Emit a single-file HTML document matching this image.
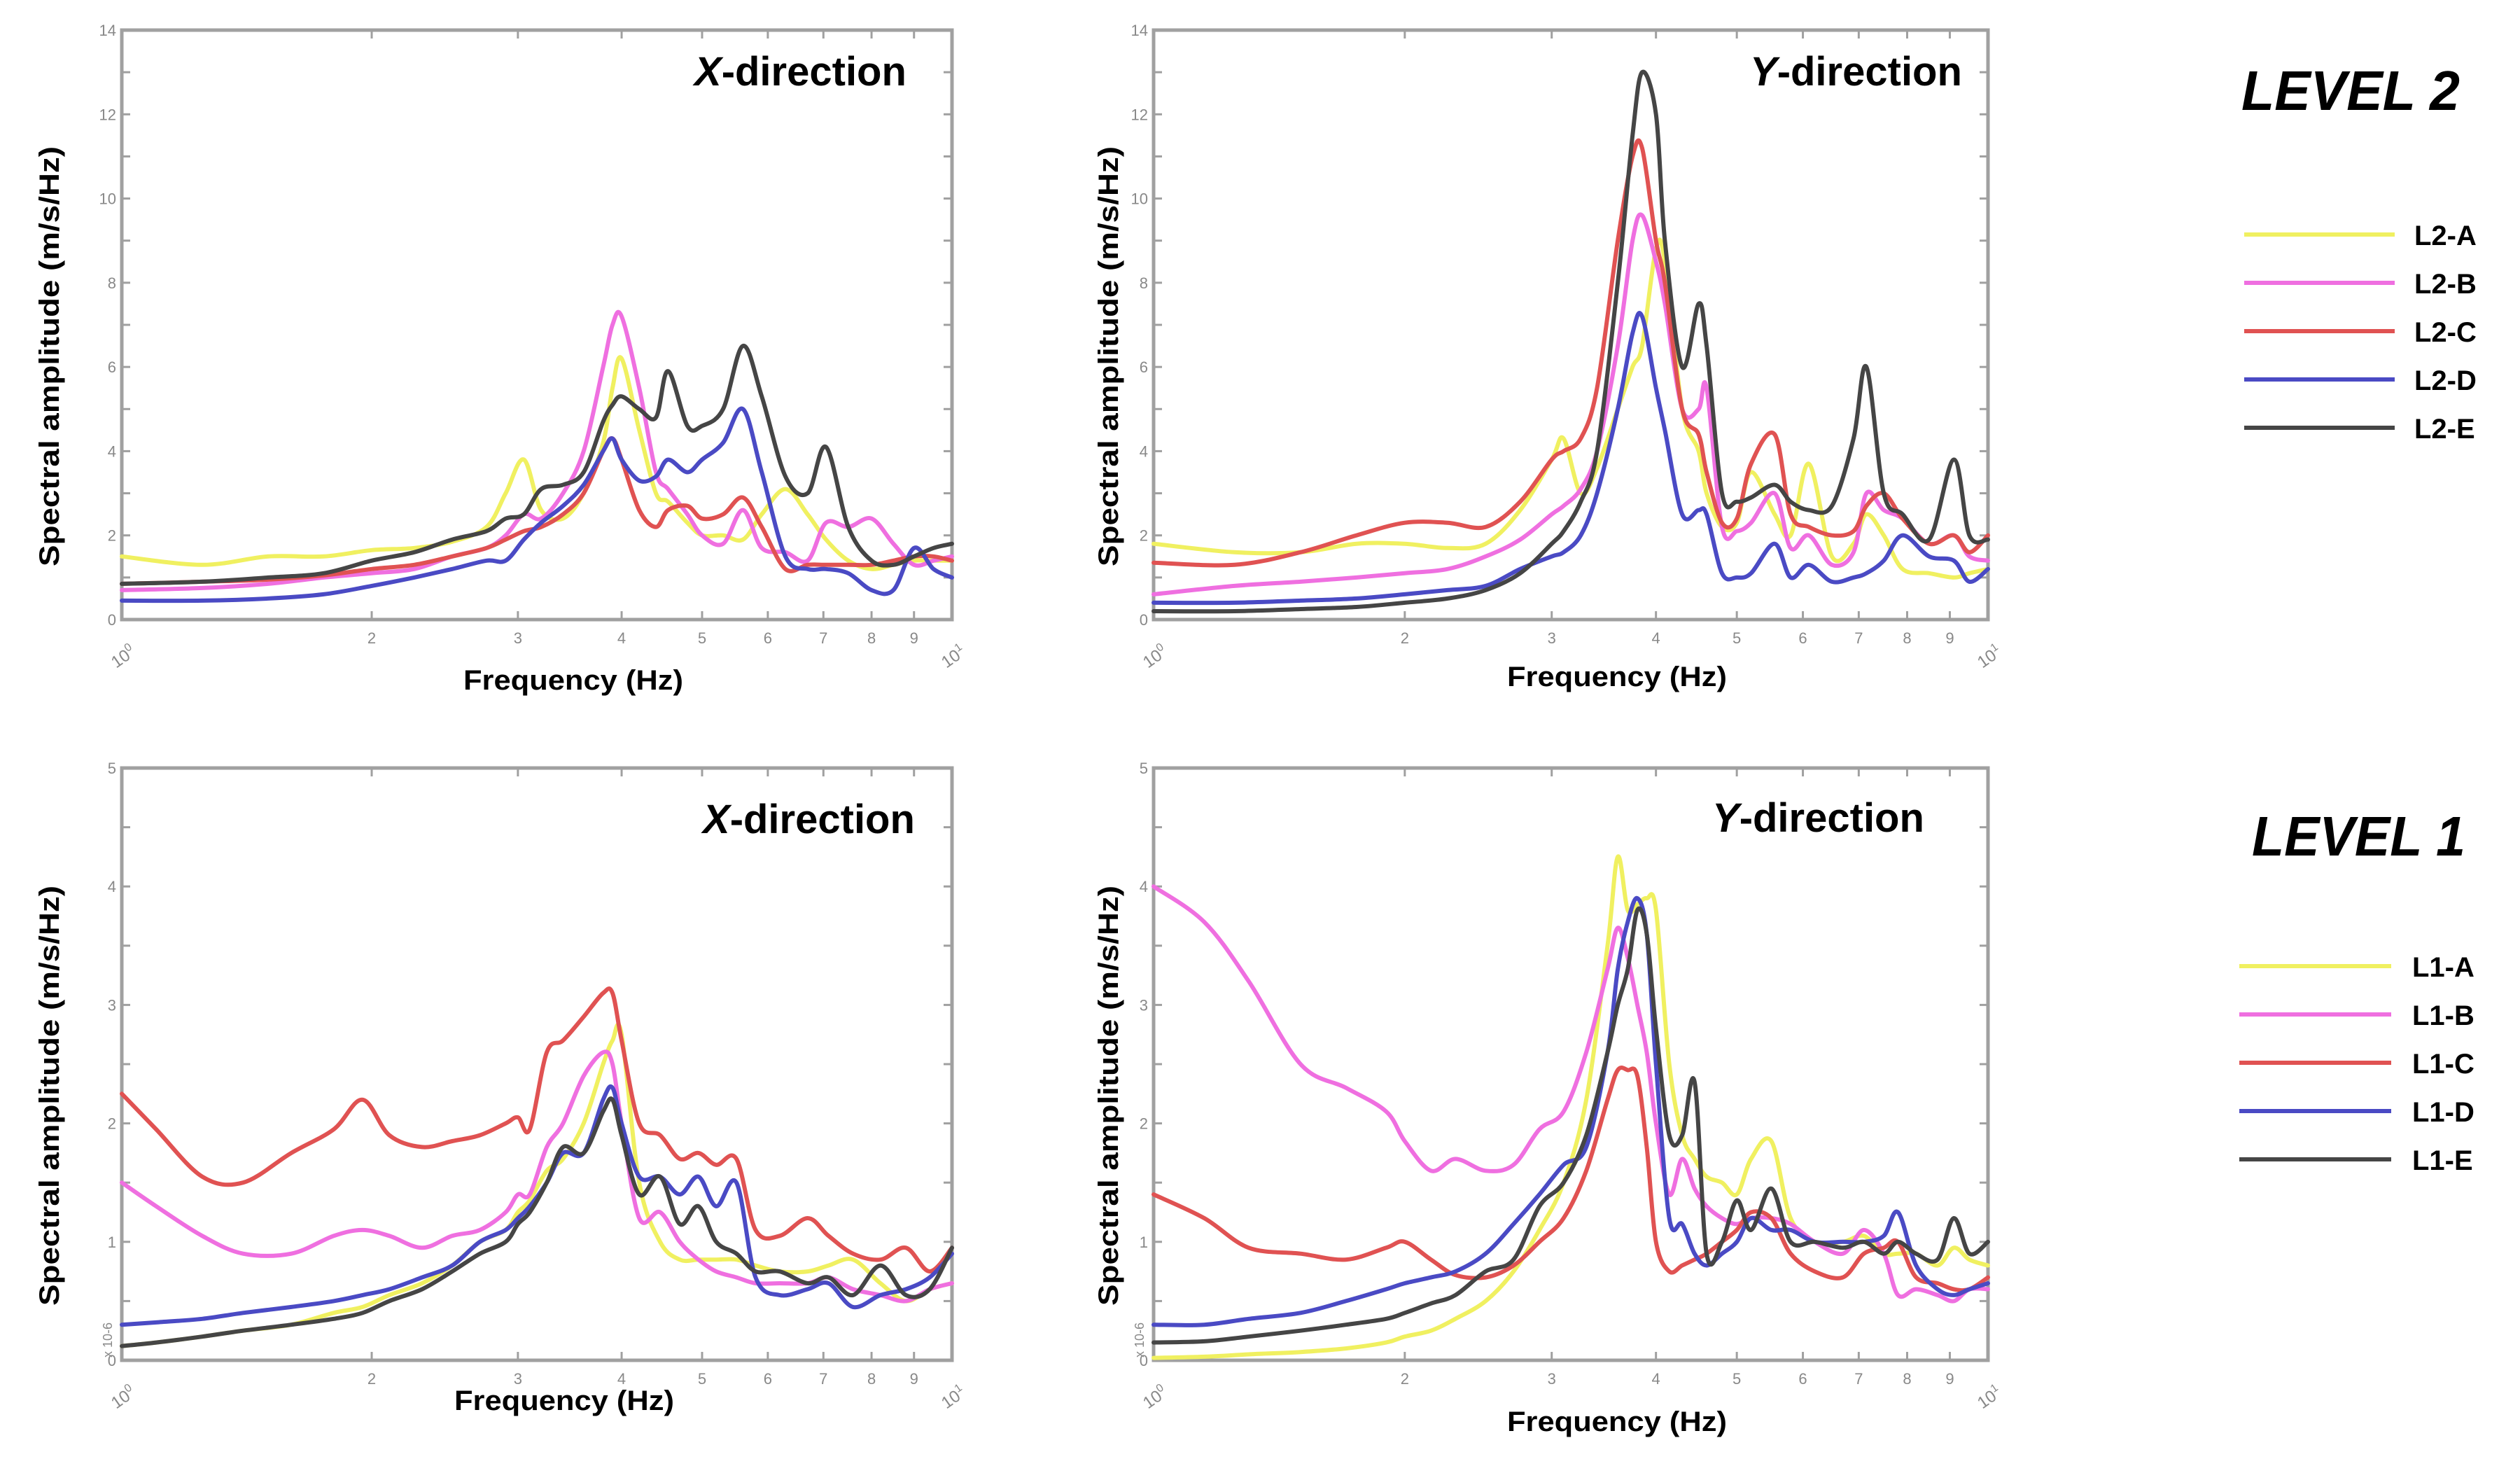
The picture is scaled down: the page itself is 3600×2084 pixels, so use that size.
<!DOCTYPE html>
<html><head><meta charset="utf-8">
<style>
html,body{margin:0;padding:0;background:#fff;}
svg{display:block;}
text{font-family:"Liberation Sans",sans-serif;}
</style></head>
<body>
<svg id="fig" width="3600" height="2084" viewBox="0 0 3600 2084" xmlns="http://www.w3.org/2000/svg">
  <rect x="0" y="0" width="3600" height="2084" fill="#fff"/>
  <g id="panels"></g>
  <text x="3202" y="157" font-size="80" font-weight="bold" font-style="italic" textLength="312" lengthAdjust="spacingAndGlyphs">LEVEL 2</text>
  <text x="3217" y="1222" font-size="80" font-weight="bold" font-style="italic" textLength="305" lengthAdjust="spacingAndGlyphs">LEVEL 1</text>
  <g id="legends"></g>
</svg>
<script>
// ---------- DATA ----------
const seriesNamesL2 = ["L2-A","L2-B","L2-C","L2-D","L2-E"];
const seriesNamesL1 = ["L1-A","L1-B","L1-C","L1-D","L1-E"];
const seriesColors = ["#f0f060","#ef6fe0","#e05252","#4a4ac4","#454545"];
const yTicksL2 = [0,2,4,6,8,10,12,14];
const yTicksL1 = [0,1,2,3,4,5];
const xTickValues = [2,3,4,5,6,7,8,9];
const xTickLabels = ["2","3","4","5","6","7","8","9"];

// Level 2, X-direction
const freqL2X = [1,1.25,1.5,1.75,2,2.25,2.5,2.75,2.9,3.05,3.2,3.4,3.6,3.8,3.9,4,4.2,4.4,4.55,4.8,5,5.3,5.6,5.9,6.3,6.7,7.05,7.5,8,8.5,9,9.5,10];
const l2xA = [1.5,1.3,1.5,1.5,1.65,1.7,1.85,2.2,3.0,3.8,2.6,2.4,3.0,4.2,5.5,6.2,4.5,3.0,2.8,2.3,2.0,2.0,1.9,2.5,3.1,2.5,1.9,1.4,1.2,1.3,1.4,1.4,1.4];
const l2xB = [0.7,0.75,0.85,1.0,1.1,1.2,1.5,1.7,2.0,2.5,2.4,3.0,4.0,6.0,7.0,7.2,5.5,3.5,3.1,2.5,2.0,1.8,2.6,1.7,1.6,1.4,2.3,2.2,2.4,1.8,1.3,1.4,1.5];
const l2xC = [0.85,0.9,0.95,1.05,1.2,1.3,1.5,1.7,1.9,2.1,2.2,2.5,3.0,4.0,4.3,3.8,2.6,2.2,2.6,2.7,2.4,2.5,2.9,2.2,1.2,1.3,1.3,1.3,1.3,1.4,1.5,1.5,1.4];
const l2xD = [0.45,0.45,0.5,0.6,0.8,1.0,1.2,1.4,1.4,1.9,2.3,2.7,3.2,4.0,4.3,3.8,3.3,3.4,3.8,3.5,3.8,4.2,5.0,3.5,1.5,1.2,1.2,1.1,0.7,0.7,1.7,1.2,1.0];
const l2xE = [0.85,0.9,1.0,1.1,1.4,1.6,1.9,2.1,2.4,2.5,3.1,3.2,3.5,4.7,5.1,5.3,5.0,4.8,5.9,4.6,4.6,5.0,6.5,5.3,3.4,3.0,4.1,2.2,1.4,1.3,1.5,1.7,1.8];

// Level 2, Y-direction
const freqL2Y = [1,1.25,1.5,1.75,2,2.25,2.5,2.75,3,3.1,3.25,3.4,3.6,3.75,3.85,4,4.1,4.3,4.5,4.6,4.8,5,5.2,5.55,5.8,6.1,6.5,6.9,7.15,7.5,7.9,8.5,9.1,9.5,10];
const l2yA = [1.8,1.6,1.6,1.8,1.8,1.7,1.8,2.6,3.8,4.3,3.0,3.6,5.0,6.0,6.5,8.8,8.5,5.0,4.0,3.0,2.2,2.3,3.5,2.5,2.0,3.7,1.5,1.8,2.5,2.0,1.2,1.1,1.0,1.1,1.2];
const l2yB = [0.6,0.8,0.9,1.0,1.1,1.2,1.5,1.9,2.5,2.7,3.1,4.0,6.5,9.0,9.6,8.5,7.5,5.0,5.0,5.5,2.2,2.1,2.3,3.0,1.7,2.0,1.3,1.6,3.0,2.6,2.4,1.8,2.0,1.5,1.4];
const l2yC = [1.35,1.3,1.6,2.0,2.3,2.3,2.2,2.8,3.8,4.0,4.3,5.5,9.0,11.0,11.2,9.0,8.0,5.0,4.4,3.5,2.3,2.4,3.7,4.4,2.5,2.2,2.0,2.1,2.7,3.0,2.4,1.8,2.0,1.6,2.0];
const l2yD = [0.4,0.4,0.45,0.5,0.6,0.7,0.8,1.2,1.5,1.6,2.0,3.0,5.0,6.8,7.2,5.5,4.5,2.5,2.6,2.5,1.1,1.0,1.1,1.8,1.0,1.3,0.9,1.0,1.1,1.4,2.0,1.5,1.4,0.9,1.2];
const l2yE = [0.2,0.2,0.25,0.3,0.4,0.5,0.7,1.1,1.8,2.1,2.8,4.0,8.0,11.5,13.0,12.0,9.0,6.0,7.5,6.5,3.0,2.8,2.9,3.2,2.8,2.6,2.7,4.3,6.0,3.0,2.5,1.9,3.8,2.0,1.9];

// Level 1, X-direction (x 10^-6)
const freqL1X = [1,1.1,1.25,1.4,1.6,1.8,1.95,2.1,2.3,2.5,2.7,2.9,3.0,3.1,3.25,3.4,3.6,3.8,3.9,4.0,4.2,4.45,4.7,4.95,5.2,5.5,5.8,6.2,6.7,7.1,7.6,8.2,8.8,9.4,10];
const l1xA = [0.12,0.15,0.2,0.25,0.3,0.4,0.45,0.55,0.65,0.8,1.0,1.1,1.25,1.35,1.6,1.7,2.0,2.5,2.7,2.75,1.5,1.0,0.85,0.85,0.85,0.85,0.8,0.75,0.75,0.8,0.85,0.65,0.5,0.6,0.65];
const l1xB = [1.5,1.3,1.05,0.9,0.9,1.05,1.1,1.05,0.95,1.05,1.1,1.25,1.4,1.4,1.8,2.0,2.4,2.6,2.5,2.0,1.2,1.25,1.0,0.85,0.75,0.7,0.65,0.65,0.65,0.7,0.6,0.55,0.5,0.6,0.65];
const l1xC = [2.25,1.95,1.55,1.5,1.75,1.95,2.2,1.9,1.8,1.85,1.9,2.0,2.05,1.95,2.6,2.7,2.9,3.1,3.1,2.7,2.0,1.9,1.7,1.75,1.65,1.7,1.1,1.05,1.2,1.05,0.9,0.85,0.95,0.75,0.95];
const l1xD = [0.3,0.32,0.35,0.4,0.45,0.5,0.55,0.6,0.7,0.8,1.0,1.1,1.2,1.3,1.5,1.75,1.75,2.2,2.3,2.0,1.55,1.55,1.4,1.55,1.3,1.5,0.7,0.55,0.6,0.65,0.45,0.55,0.6,0.7,0.9];
const l1xE = [0.12,0.15,0.2,0.25,0.3,0.35,0.4,0.5,0.6,0.75,0.9,1.0,1.15,1.25,1.5,1.8,1.75,2.1,2.2,1.9,1.4,1.55,1.15,1.3,1.0,0.9,0.75,0.75,0.65,0.7,0.55,0.8,0.55,0.6,0.95];

// Level 1, Y-direction (x 10^-6)
const freqL1Y = [1,1.15,1.3,1.5,1.7,1.9,2.0,2.15,2.3,2.5,2.7,2.9,3.1,3.3,3.5,3.6,3.7,3.8,3.9,4.0,4.15,4.3,4.45,4.6,4.8,5.0,5.2,5.5,5.8,6.2,6.7,7.1,7.5,7.8,8.2,8.7,9.1,9.5,10];
const l1yA = [0.02,0.03,0.05,0.07,0.1,0.15,0.2,0.25,0.35,0.5,0.75,1.1,1.5,2.2,3.5,4.25,3.8,3.85,3.9,3.8,2.5,1.9,1.7,1.55,1.5,1.4,1.7,1.85,1.2,1.0,1.0,1.05,0.9,0.9,0.9,0.8,0.95,0.85,0.8];
const l1yB = [4.0,3.7,3.2,2.5,2.3,2.1,1.85,1.6,1.7,1.6,1.65,1.95,2.1,2.6,3.3,3.65,3.4,3.0,2.6,2.0,1.4,1.7,1.45,1.3,1.2,1.15,1.2,1.2,1.15,1.0,0.9,1.1,0.9,0.55,0.6,0.55,0.5,0.6,0.6];
const l1yC = [1.4,1.2,0.95,0.9,0.85,0.95,1.0,0.85,0.72,0.7,0.8,1.0,1.2,1.6,2.2,2.45,2.45,2.4,1.8,1.0,0.75,0.8,0.85,0.9,1.0,1.1,1.25,1.2,0.9,0.75,0.7,0.9,0.95,1.0,0.7,0.65,0.6,0.6,0.7];
const l1yD = [0.3,0.3,0.35,0.4,0.5,0.6,0.65,0.7,0.75,0.9,1.15,1.4,1.65,1.8,2.6,3.3,3.7,3.9,3.6,2.5,1.2,1.15,0.9,0.8,0.9,1.0,1.2,1.1,1.1,1.0,1.0,1.0,1.05,1.25,0.8,0.6,0.55,0.6,0.65];
const l1yE = [0.15,0.16,0.2,0.25,0.3,0.35,0.4,0.48,0.55,0.75,0.85,1.3,1.5,1.9,2.6,3.0,3.3,3.8,3.6,2.8,1.9,1.9,2.35,0.9,1.0,1.35,1.1,1.45,1.0,1.0,0.95,1.0,0.9,1.0,0.9,0.85,1.2,0.9,1.0];

// ---------- RENDER ----------
const NS = "http://www.w3.org/2000/svg";
function mk(tag, attrs, parent){
  const e = document.createElementNS(NS, tag);
  for (const k in attrs) e.setAttribute(k, attrs[k]);
  if (parent) parent.appendChild(e);
  return e;
}
function smoothPath(pts){
  let d = "M" + pts[0][0].toFixed(1) + "," + pts[0][1].toFixed(1);
  for (let i = 0; i < pts.length - 1; i++){
    const p0 = pts[Math.max(0,i-1)], p1 = pts[i], p2 = pts[i+1], p3 = pts[Math.min(pts.length-1,i+2)];
    const c1x = p1[0] + (p2[0]-p0[0])/6, c1y = p1[1] + (p2[1]-p0[1])/6;
    const c2x = p2[0] - (p3[0]-p1[0])/6, c2y = p2[1] - (p3[1]-p1[1])/6;
    d += " C" + c1x.toFixed(1) + "," + c1y.toFixed(1) + " " + c2x.toFixed(1) + "," + c2y.toFixed(1) + " " + p2[0].toFixed(1) + "," + p2[1].toFixed(1);
  }
  return d;
}

const panelsG = document.getElementById("panels");
const panelDefs = [
  {id:"level2-x", L:174, R:1360, T:43, B:885, ymax:14, yticks:yTicksL2, minor:1, freq:freqL2X, series:[l2xA,l2xB,l2xC,l2xD,l2xE], names:seriesNamesL2, title:"X", tx:992, ty:122, ytx:84, xtx:819, xty:985, exp:false},
  {id:"level2-y", L:1648, R:2840, T:43, B:885, ymax:14, yticks:yTicksL2, minor:1, freq:freqL2Y, series:[l2yA,l2yB,l2yC,l2yD,l2yE], names:seriesNamesL2, title:"Y", tx:2500, ty:122, ytx:1597, xtx:2310, xty:980, exp:false},
  {id:"level1-x", L:174, R:1360, T:1097, B:1943, ymax:5, yticks:yTicksL1, minor:0.5, freq:freqL1X, series:[l1xA,l1xB,l1xC,l1xD,l1xE], names:seriesNamesL1, title:"X", tx:1004, ty:1190, ytx:84, xtx:806, xty:2014, exp:true},
  {id:"level1-y", L:1648, R:2840, T:1097, B:1943, ymax:5, yticks:yTicksL1, minor:0.5, freq:freqL1Y, series:[l1yA,l1yB,l1yC,l1yD,l1yE], names:seriesNamesL1, title:"Y", tx:2446, ty:1188, ytx:1597, xtx:2310, xty:2044, exp:true}
];

panelDefs.forEach(p => {
  const g = mk("g", {}, panelsG);
  
  
  const xs = f => p.L + (p.R - p.L) * Math.log10(f);
  const ys = v => p.B - (p.B - p.T) * v / p.ymax;

  const frame = mk("rect", {x:p.L, y:p.T, width:p.R-p.L, height:p.B-p.T, fill:"#fff", stroke:"#a0a0a0", "stroke-width":5}, g);
  
  

  const yAxis = mk("g", {}, g);
  
  
  for (let v = 0; v <= p.ymax + 1e-9; v += p.minor){
    const y = ys(v);
    mk("line", {x1:p.L, x2:p.L+12, y1:y, y2:y, stroke:"#a0a0a0", "stroke-width":3}, yAxis);
    mk("line", {x1:p.R, x2:p.R-12, y1:y, y2:y, stroke:"#a0a0a0", "stroke-width":3}, yAxis);
  }
  p.yticks.forEach(v => {
    const t = mk("text", {x:p.L-8, y:ys(v)+8, "font-size":22, fill:"#888", "text-anchor":"end"}, yAxis);
    
    
    t.textContent = String(v);
  });
  if (p.exp){
    const t = mk("text", {x:0, y:0, "font-size":18, fill:"#888", transform:"translate("+(p.L-14)+","+(p.B-4)+") rotate(-90)"}, yAxis);
    
    
    t.textContent = "x 10-6";
  }

  const xAxis = mk("g", {}, g);
  
  
  xTickValues.forEach((f, i) => {
    const x = xs(f);
    mk("line", {x1:x, x2:x, y1:p.B, y2:p.B-12, stroke:"#a0a0a0", "stroke-width":3}, xAxis);
    mk("line", {x1:x, x2:x, y1:p.T, y2:p.T+12, stroke:"#a0a0a0", "stroke-width":3}, xAxis);
    const t = mk("text", {x:x, y:p.B+34, "font-size":22, fill:"#888", "text-anchor":"middle"}, xAxis);
    
    
    t.textContent = xTickLabels[i];
  });
  [[1,"10","0"],[10,"10","1"]].forEach(e => {
    const t = mk("text", {x:0, y:0, "font-size":24, fill:"#888", transform:"translate("+(xs(e[0])-8)+","+(p.B+70)+") rotate(-35)"}, xAxis);
    
    
    t.textContent = e[1];
    const s = mk("tspan", {dy:-10, "font-size":16}, t);
    s.textContent = e[2];
  });

  const lines = mk("g", {fill:"none", "stroke-width":6, "stroke-linejoin":"round", "stroke-linecap":"round"}, g);
  
  
  p.series.forEach((vals, si) => {
    const pts = p.freq.map((f, i) => [xs(f), ys(vals[i])]);
    const path = mk("path", {d:smoothPath(pts), stroke:seriesColors[si]}, lines);
    
    
  });

  const tt = mk("text", {x:p.tx, y:p.ty, "font-size":58, "font-weight":"bold", fill:"#000"}, g);
  
  
  const ti = mk("tspan", {"font-style":"italic"}, tt);
  ti.textContent = p.title;
  const tr = mk("tspan", {}, tt);
  tr.textContent = "-direction";

  const yt = mk("text", {x:0, y:0, "font-size":40, "font-weight":"bold", fill:"#000", "text-anchor":"middle", textLength:600, lengthAdjust:"spacingAndGlyphs", transform:"translate("+p.ytx+","+((p.T+p.B)/2+45)+") rotate(-90)"}, g);
  
  
  yt.textContent = "Spectral amplitude (m/s/Hz)";

  const xt = mk("text", {x:p.xtx, y:p.xty, "font-size":40, "font-weight":"bold", fill:"#000", "text-anchor":"middle", textLength:314, lengthAdjust:"spacingAndGlyphs"}, g);
  
  
  xt.textContent = "Frequency (Hz)";
});

const legG = document.getElementById("legends");
[[seriesNamesL2, 3206, 3421, 3449, 335, "level-2-legend"], [seriesNamesL1, 3199, 3416, 3446, 1380, "level-1-legend"]].forEach(L => {
  const g = mk("g", {}, legG);
  
  
  L[0].forEach((name, i) => {
    const y = L[4] + i * 69;
    const row = mk("g", {}, g);
    
    
    mk("line", {x1:L[1], x2:L[2], y1:y, y2:y, stroke:seriesColors[i], "stroke-width":6}, row);
    const t = mk("text", {x:L[3], y:y+15, "font-size":40, "font-weight":"bold", fill:"#000"}, row);
    t.textContent = name;
  });
});
</script>
</body></html>
